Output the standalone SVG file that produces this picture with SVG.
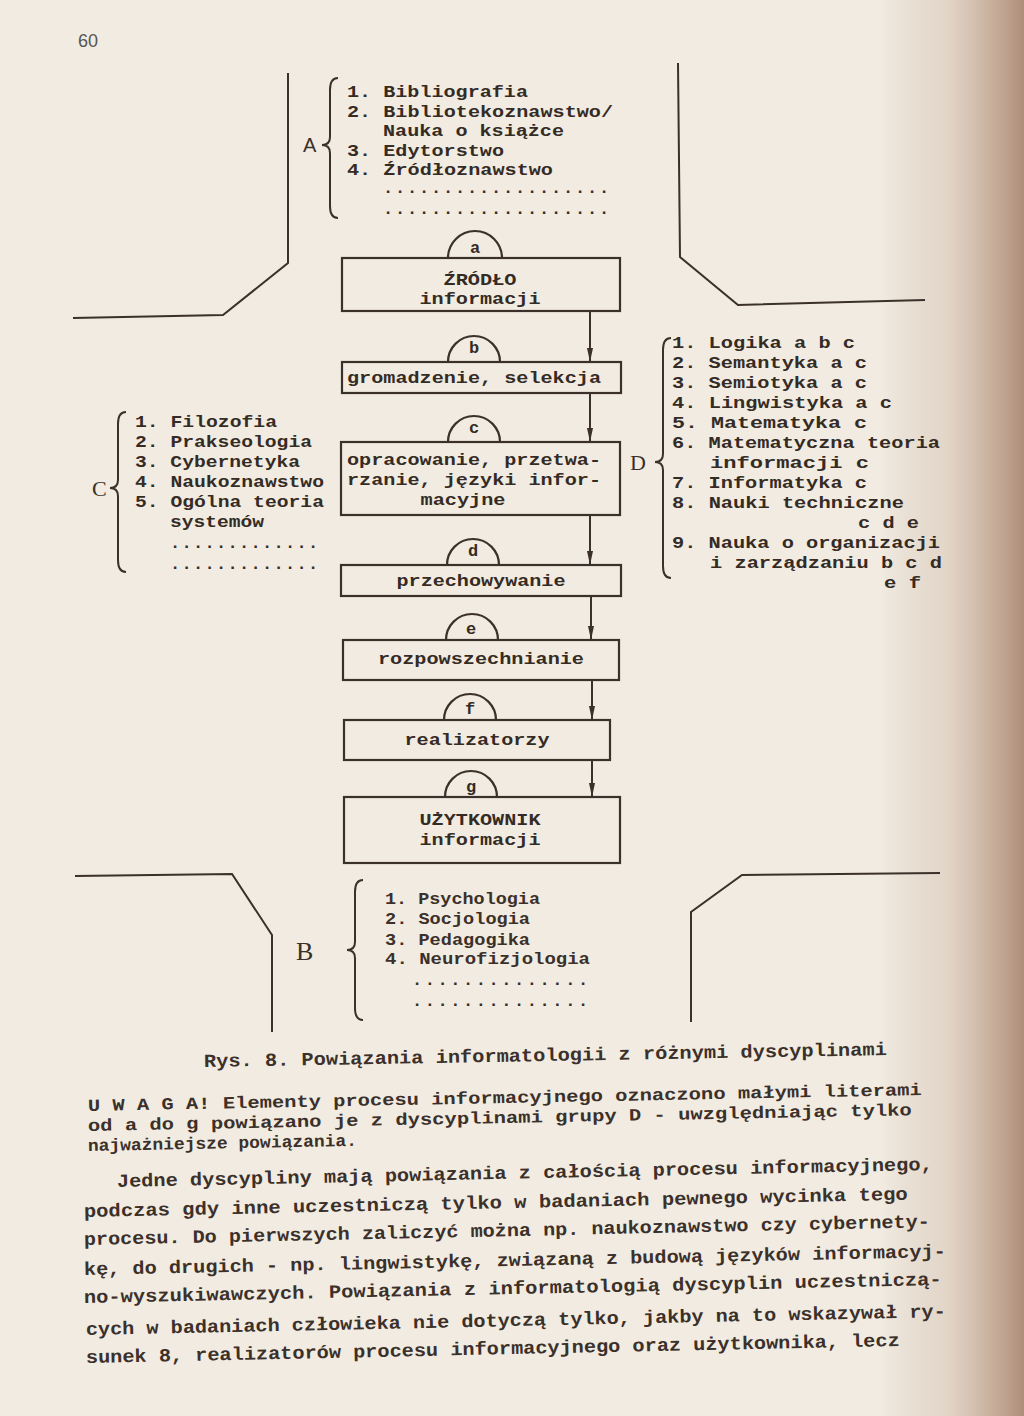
<svg xmlns="http://www.w3.org/2000/svg" width="1024" height="1416" viewBox="0 0 1024 1416">
<defs>
<linearGradient id="edge" x1="0" y1="0" x2="1" y2="0">
<stop offset="0" stop-color="#b49682" stop-opacity="0"/>
<stop offset="0.45" stop-color="#c9b09e" stop-opacity="0.35"/>
<stop offset="0.75" stop-color="#c0a48f" stop-opacity="0.8"/>
<stop offset="1" stop-color="#ad8e79" stop-opacity="1"/>
</linearGradient>
<marker id="arr" viewBox="0 0 14 6" refX="14" refY="3" markerWidth="14" markerHeight="6" markerUnits="userSpaceOnUse" orient="auto">
<path d="M0,0 L14,3 L0,6 Z" fill="#3b302a"/>
</marker>
<style>
.t{font-family:"Liberation Mono","DejaVu Sans Mono",monospace;font-size:17px;font-weight:bold;fill:#352b25}
.d{font-family:"Liberation Mono","DejaVu Sans Mono",monospace;font-size:17px;letter-spacing:1.9px;font-weight:bold;fill:#352b25}
.n{font-family:"Liberation Mono","DejaVu Sans Mono",monospace;font-size:17px;font-weight:bold;fill:#3b302a}
.p{font-family:"Liberation Mono","DejaVu Sans Mono",monospace;font-size:18.5px;font-weight:bold;fill:#3b302a}
.s{font-family:"Liberation Sans","DejaVu Sans",sans-serif;font-size:20px;fill:#3b302a}
.r{font-family:"Liberation Serif","DejaVu Serif",serif;font-size:22px;fill:#3b302a}
.ln{fill:none;stroke:#3b302a;stroke-width:2}
.bx{fill:none;stroke:#3b302a;stroke-width:2.2}
.c{text-anchor:middle}
</style>
</defs>
<rect x="0" y="0" width="1024" height="1416" fill="#f1ebe1"/>
<rect x="880" y="0" width="144" height="1416" fill="url(#edge)"/>

<text class="s" x="78" y="47" style="font-size:18px;fill:#555">60</text>

<g id="frame-lines">
<polyline class="ln" points="288,73 288,263 223,315 73,318"/>
<polyline class="ln" points="678,63 680,257 738,305 925,300"/>
<polyline class="ln" points="75,876 232,874 272,935 272,1032"/>
<polyline class="ln" points="691,1022 691,912 742,875 940,873"/>
</g>

<g id="group-A">
<path class="ln" d="M338,78 Q330,78 330,90 L330,137 Q330,145 322,145 Q330,145 330,153 L330,206 Q330,218 338,218"/>
<text class="s" x="303" y="152">A</text>
<text class="t" x="347" y="97" textLength="181" lengthAdjust="spacingAndGlyphs">1. Bibliografia</text>
<text class="t" x="347" y="117" textLength="266" lengthAdjust="spacingAndGlyphs">2. Bibliotekoznawstwo/</text>
<text class="t" x="383" y="136" textLength="181" lengthAdjust="spacingAndGlyphs">Nauka o książce</text>
<text class="t" x="347" y="156" textLength="157" lengthAdjust="spacingAndGlyphs">3. Edytorstwo</text>
<text class="t" x="347" y="175" textLength="206" lengthAdjust="spacingAndGlyphs">4. Źródłoznawstwo</text>
<text class="d" x="383" y="193" textLength="228">...................</text>
<text class="d" x="383" y="214" textLength="228">...................</text>
</g>

<g id="group-C">
<path class="ln" d="M126,412 Q118,412 118,424 L118,480 Q118,488 110,488 Q118,488 118,496 L118,560 Q118,572 126,572"/>
<text class="r" x="92" y="496">C</text>
<text class="t" x="135" y="427" textLength="142" lengthAdjust="spacingAndGlyphs">1. Filozofia</text>
<text class="t" x="135" y="447" textLength="177" lengthAdjust="spacingAndGlyphs">2. Prakseologia</text>
<text class="t" x="135" y="467" textLength="165" lengthAdjust="spacingAndGlyphs">3. Cybernetyka</text>
<text class="t" x="135" y="487" textLength="189" lengthAdjust="spacingAndGlyphs">4. Naukoznawstwo</text>
<text class="t" x="135" y="507" textLength="189" lengthAdjust="spacingAndGlyphs">5. Ogólna teoria</text>
<text class="t" x="170" y="527" textLength="94" lengthAdjust="spacingAndGlyphs">systemów</text>
<text class="d" x="170" y="548" textLength="150">.............</text>
<text class="d" x="170" y="569" textLength="150">.............</text>
</g>

<g id="group-D">
<path class="ln" d="M671,338 Q663,338 663,350 L663,454 Q663,462 655,462 Q663,462 663,470 L663,566 Q663,578 671,578"/>
<text class="r" x="630" y="470">D</text>
<text class="t" x="672" y="348" textLength="183" lengthAdjust="spacingAndGlyphs">1. Logika a b c</text>
<text class="t" x="672" y="368" textLength="195" lengthAdjust="spacingAndGlyphs">2. Semantyka a c</text>
<text class="t" x="672" y="388" textLength="195" lengthAdjust="spacingAndGlyphs">3. Semiotyka a c</text>
<text class="t" x="672" y="408" textLength="220" lengthAdjust="spacingAndGlyphs">4. Lingwistyka a c</text>
<text class="t" x="672" y="428" textLength="195" lengthAdjust="spacingAndGlyphs">5. Matematyka  c</text>
<text class="t" x="672" y="448" textLength="268" lengthAdjust="spacingAndGlyphs">6. Matematyczna teoria</text>
<text class="t" x="710" y="468" textLength="159" lengthAdjust="spacingAndGlyphs">informacji  c</text>
<text class="t" x="672" y="488" textLength="195" lengthAdjust="spacingAndGlyphs">7. Informatyka c</text>
<text class="t" x="672" y="508" textLength="232" lengthAdjust="spacingAndGlyphs">8. Nauki techniczne</text>
<text class="t" x="858" y="528" textLength="61" lengthAdjust="spacingAndGlyphs">c d e</text>
<text class="t" x="672" y="548" textLength="268" lengthAdjust="spacingAndGlyphs">9. Nauka o organizacji</text>
<text class="t" x="710" y="568" textLength="232" lengthAdjust="spacingAndGlyphs">i zarządzaniu b c d</text>
<text class="t" x="884" y="588" textLength="37" lengthAdjust="spacingAndGlyphs">e f</text>
</g>

<g id="group-B">
<path class="ln" d="M363,880 Q355,880 355,892 L355,942 Q355,950 347,950 Q355,950 355,958 L355,1008 Q355,1020 363,1020"/>
<text class="r" x="296" y="960" style="font-size:26px">B</text>
<text class="n" x="385" y="904" textLength="155" lengthAdjust="spacingAndGlyphs">1. Psychologia</text>
<text class="n" x="385" y="924" textLength="145" lengthAdjust="spacingAndGlyphs">2. Socjologia</text>
<text class="n" x="385" y="945" textLength="145" lengthAdjust="spacingAndGlyphs">3. Pedagogika</text>
<text class="n" x="385" y="964" textLength="205" lengthAdjust="spacingAndGlyphs">4. Neurofizjologia</text>
<text class="d" x="412" y="985" textLength="178">..............</text>
<text class="d" x="412" y="1006" textLength="178">..............</text>
</g>

<g id="node-a">
<path class="bx" d="M448,258 A27,27 0 0 1 502,258"/>
<text class="t c" x="475" y="253">a</text>
<rect class="bx" x="342" y="258" width="278" height="53"/>
<text class="t c" x="480" y="285" textLength="73" lengthAdjust="spacingAndGlyphs">ŹRÓDŁO</text>
<text class="t c" x="480" y="304" textLength="121" lengthAdjust="spacingAndGlyphs">informacji</text>
</g>
<g id="node-b">
<path class="bx" d="M448,362 A26,26 0 0 1 500,362"/>
<text class="t c" x="474" y="353">b</text>
<rect class="bx" x="342" y="362" width="279" height="31"/>
<text class="t c" x="474" y="383" textLength="254" lengthAdjust="spacingAndGlyphs">gromadzenie, selekcja</text>
</g>
<g id="node-c">
<path class="bx" d="M448,442 A26,26 0 0 1 500,442"/>
<text class="t c" x="474" y="433">c</text>
<rect class="bx" x="341" y="442" width="279" height="73"/>
<text class="t" x="347" y="465" textLength="254" lengthAdjust="spacingAndGlyphs">opracowanie, przetwa-</text>
<text class="t" x="347" y="485" textLength="254" lengthAdjust="spacingAndGlyphs">rzanie, języki infor-</text>
<text class="t c" x="463" y="505" textLength="85" lengthAdjust="spacingAndGlyphs">macyjne</text>
</g>
<g id="node-d">
<path class="bx" d="M447,565 A26,26 0 0 1 499,565"/>
<text class="t c" x="473" y="556">d</text>
<rect class="bx" x="341" y="565" width="280" height="31"/>
<text class="t c" x="481" y="586" textLength="169" lengthAdjust="spacingAndGlyphs">przechowywanie</text>
</g>
<g id="node-e">
<path class="bx" d="M446,640 A26,26 0 0 1 498,640"/>
<text class="t c" x="471" y="634">e</text>
<rect class="bx" x="343" y="640" width="276" height="40"/>
<text class="t c" x="481" y="664" textLength="206" lengthAdjust="spacingAndGlyphs">rozpowszechnianie</text>
</g>
<g id="node-f">
<path class="bx" d="M444,720 A26,26 0 0 1 496,720"/>
<text class="t c" x="470" y="714">f</text>
<rect class="bx" x="344" y="720" width="266" height="40"/>
<text class="t c" x="477" y="745" textLength="145" lengthAdjust="spacingAndGlyphs">realizatorzy</text>
</g>
<g id="node-g">
<path class="bx" d="M445,797 A26,26 0 0 1 497,797"/>
<text class="t c" x="471" y="792">g</text>
<rect class="bx" x="344" y="797" width="276" height="66"/>
<text class="t c" x="480" y="825" textLength="121" lengthAdjust="spacingAndGlyphs">UŻYTKOWNIK</text>
<text class="t c" x="480" y="845" textLength="121" lengthAdjust="spacingAndGlyphs">informacji</text>
</g>

<g id="connectors">
<line class="ln" x1="590" y1="311" x2="590" y2="362" marker-end="url(#arr)"/>
<line class="ln" x1="590" y1="393" x2="590" y2="442" marker-end="url(#arr)"/>
<line class="ln" x1="590" y1="515" x2="590" y2="565" marker-end="url(#arr)"/>
<line class="ln" x1="591" y1="596" x2="591" y2="640" marker-end="url(#arr)"/>
<line class="ln" x1="592" y1="680" x2="592" y2="720" marker-end="url(#arr)"/>
<line class="ln" x1="592" y1="760" x2="592" y2="797" marker-end="url(#arr)"/>
</g>

<g id="caption-and-text">
<text class="p" x="204" y="1067" textLength="683" lengthAdjust="spacingAndGlyphs" transform="rotate(-1 204 1067)">Rys. 8. Powiązania informatologii z różnymi dyscyplinami</text>
<text class="n" x="88" y="1111" textLength="834" lengthAdjust="spacingAndGlyphs" transform="rotate(-1.1 88 1111)">U W A G A! Elementy procesu informacyjnego oznaczono małymi literami</text>
<text class="n" x="88" y="1131" textLength="824" lengthAdjust="spacingAndGlyphs" transform="rotate(-1.1 88 1131)">od a do g  powiązano je z dyscyplinami grupy D - uwzględniając tylko</text>
<text class="n" x="88" y="1151" textLength="269" lengthAdjust="spacingAndGlyphs" transform="rotate(-1.1 88 1151)">najważniejsze powiązania.</text>
<text class="p" x="117" y="1187" textLength="816" lengthAdjust="spacingAndGlyphs" transform="rotate(-1.2 117 1187)">Jedne dyscypliny mają powiązania z całością procesu informacyjnego,</text>
<text class="p" x="84" y="1217" textLength="824" lengthAdjust="spacingAndGlyphs" transform="rotate(-1.2 84 1217)">podczas gdy inne  uczestniczą tylko w badaniach pewnego wycinka tego</text>
<text class="p" x="84" y="1245" textLength="846" lengthAdjust="spacingAndGlyphs" transform="rotate(-1.2 84 1245)">procesu. Do pierwszych zaliczyć można np. naukoznawstwo czy cybernety-</text>
<text class="p" x="84" y="1275" textLength="862" lengthAdjust="spacingAndGlyphs" transform="rotate(-1.2 84 1275)">kę, do drugich - np. lingwistykę, związaną z budową języków informacyj-</text>
<text class="p" x="84" y="1303" textLength="858" lengthAdjust="spacingAndGlyphs" transform="rotate(-1.2 84 1303)">no-wyszukiwawczych. Powiązania z informatologią dyscyplin uczestniczą-</text>
<text class="p" x="86" y="1335" textLength="860" lengthAdjust="spacingAndGlyphs" transform="rotate(-1.2 86 1335)">cych w badaniach człowieka nie dotyczą tylko, jakby na to wskazywał ry-</text>
<text class="p" x="86" y="1363" textLength="814" lengthAdjust="spacingAndGlyphs" transform="rotate(-1.2 86 1363)">sunek 8, realizatorów procesu informacyjnego oraz użytkownika, lecz</text>
</g>
</svg>
